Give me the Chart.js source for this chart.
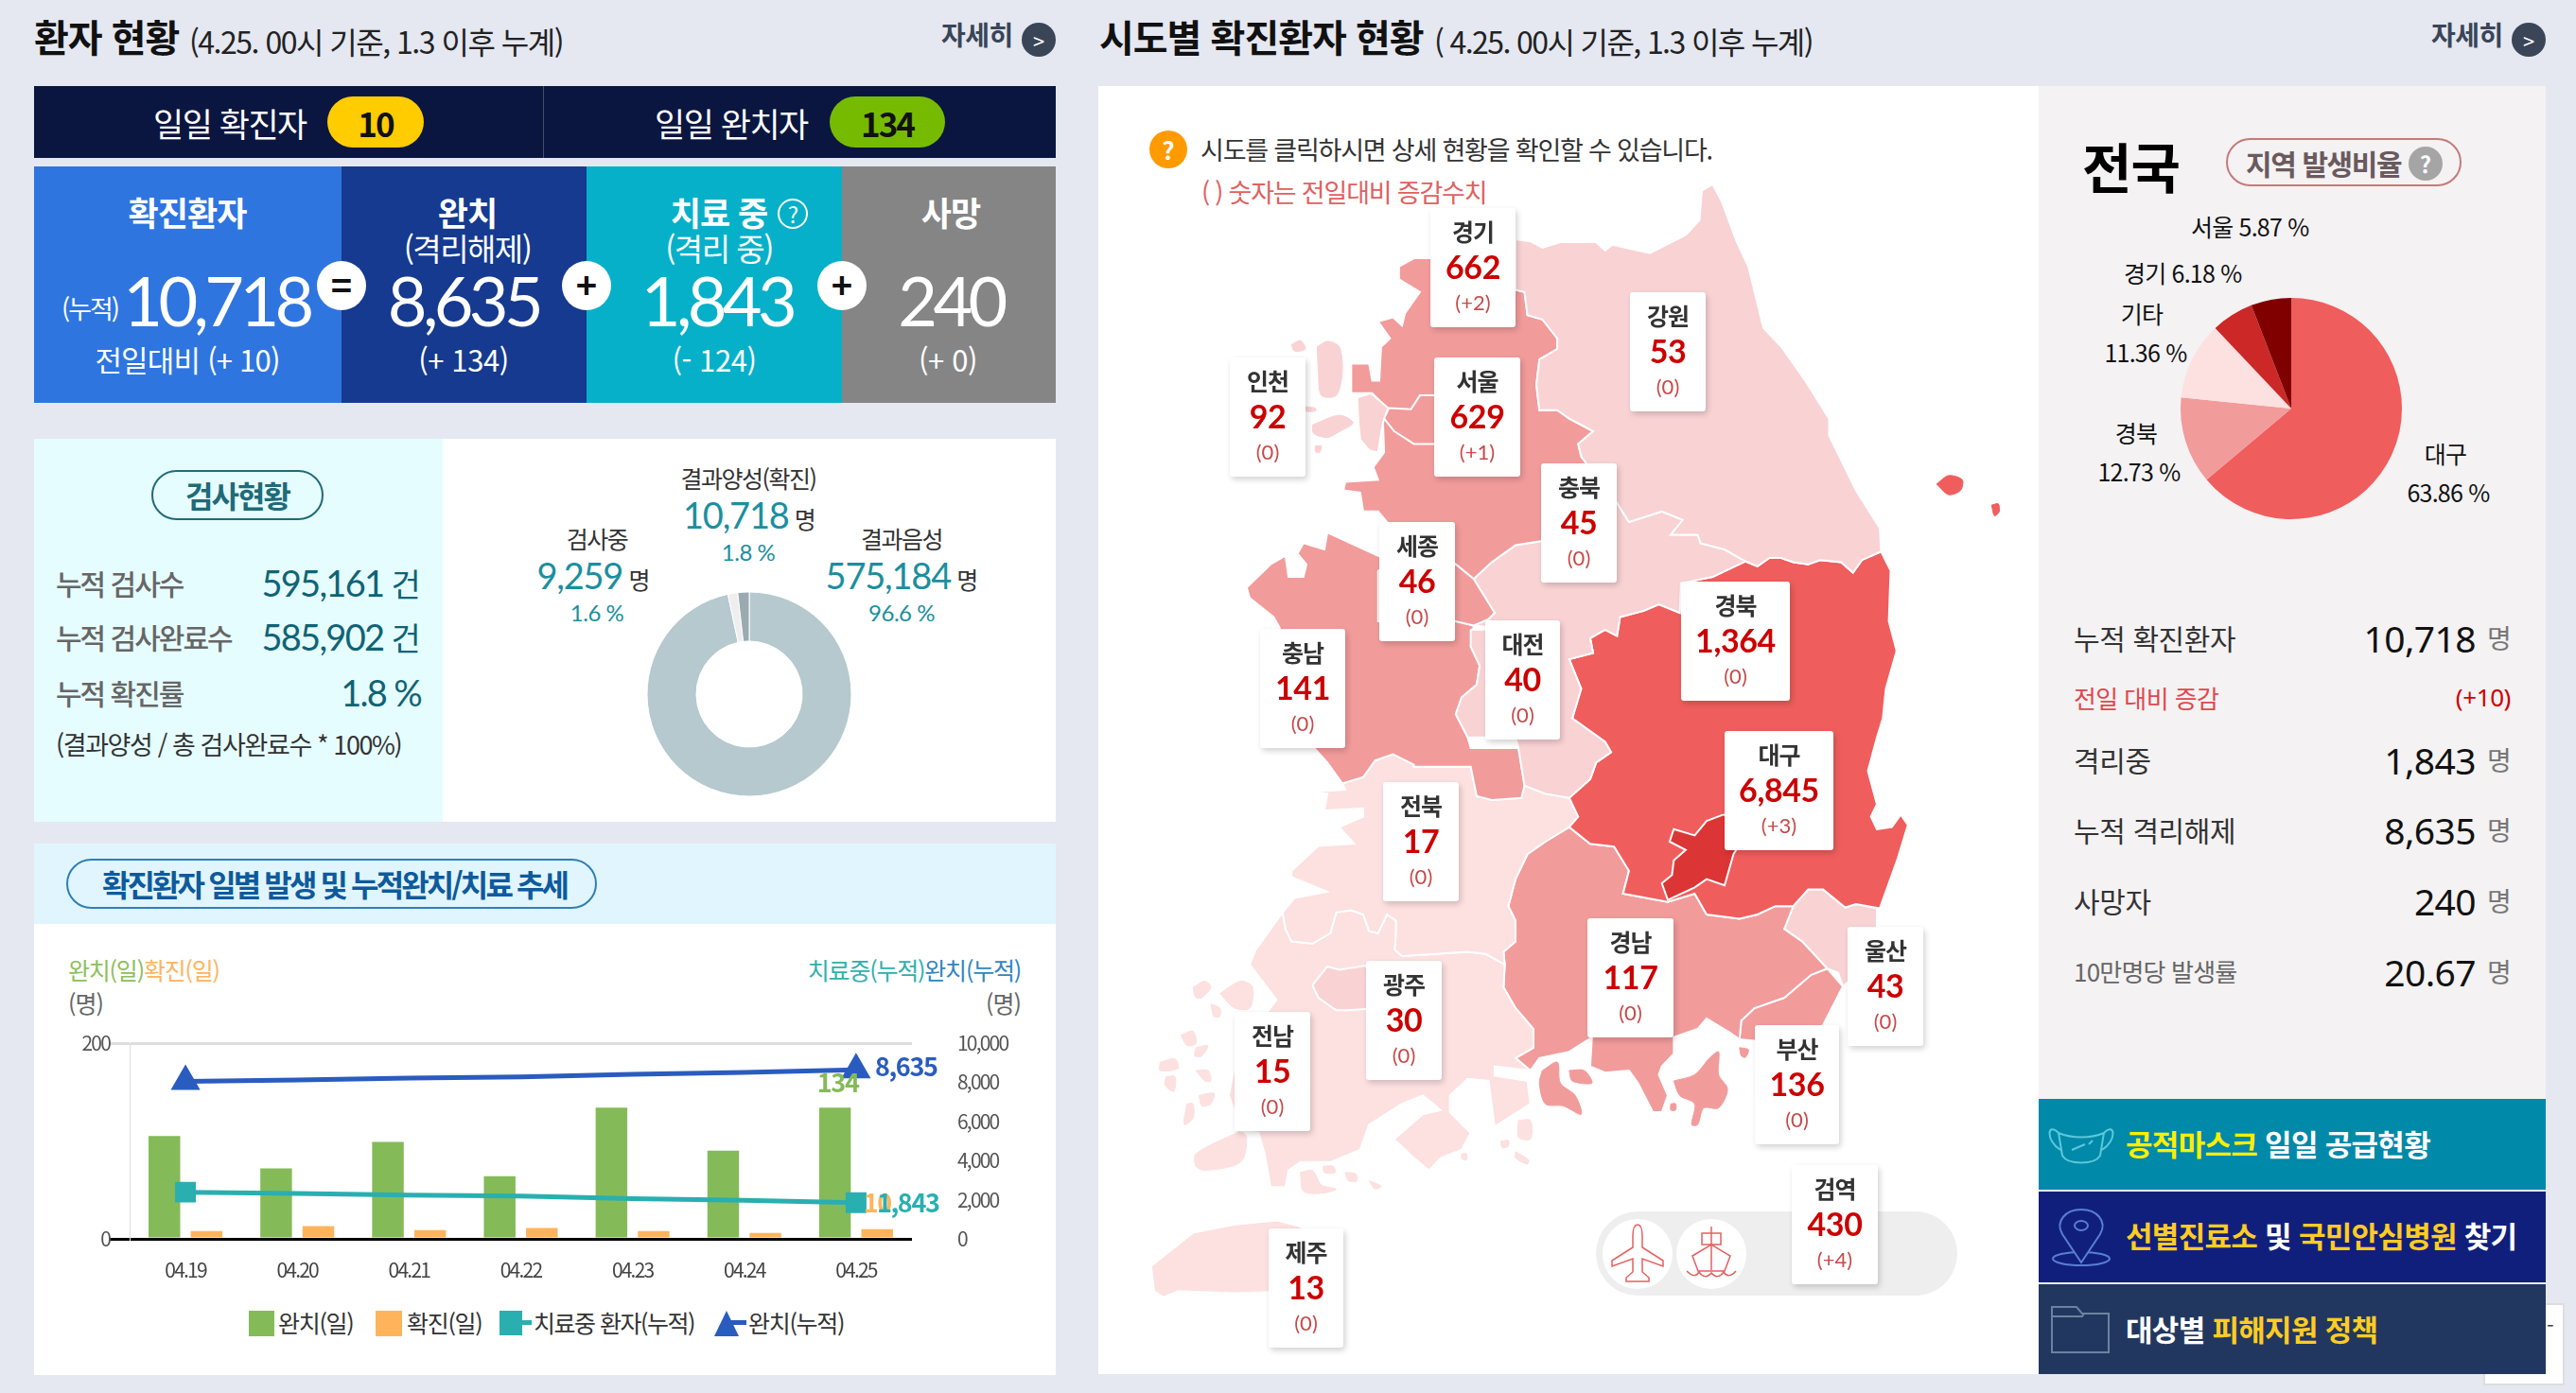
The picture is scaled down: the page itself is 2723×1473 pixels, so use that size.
<!DOCTYPE html>
<html lang="ko">
<head>
<meta charset="utf-8">
<title>환자 현황</title>
<script src="https://cdn.jsdelivr.net/npm/chart.js@4/dist/chart.umd.min.js"></script>
<style>
  html, body { margin: 0; padding: 0; }
  body { width: 2723px; height: 1473px; background: #e5e8f1; position: relative; overflow: hidden;
         font-family: "Noto Sans CJK KR", "Noto Sans", sans-serif; }
  .box, .txt, canvas, svg { position: absolute; }
  .txt { white-space: nowrap; line-height: 1; }
  .card { position: absolute; background: #fff; border-radius: 3px; box-shadow: 2px 3px 6px rgba(0,0,0,.18); }
</style>
</head>
<body>
<canvas id="mapChart" width="990" height="1363" style="left:1160px;top:90px"></canvas>
<script>
// chart data
const trendDays = ['04.19', '04.20', '04.21', '04.22', '04.23', '04.24', '04.25'];
const recoveredDaily = [105, 72, 99, 64, 134, 90, 134];
const confirmedDaily = [8, 13, 9, 11, 8, 6, 10];
const isolatedTotal = [2385, 2324, 2235, 2180, 2053, 1967, 1843];
const recoveredTotal = [8042, 8114, 8213, 8277, 8411, 8501, 8635];
const leftTicks = [0, 200];
const rightTicks = [0, 2000, 4000, 6000, 8000, 10000];

const testNames = ['결과음성', '검사중', '결과양성(확진)'];
const testCounts = [575184, 9259, 10718];
const testShares = [96.6, 1.6, 1.8];

const shareNames = ['대구', '경북', '기타', '경기', '서울'];
const shareValues = [63.86, 12.73, 11.36, 6.18, 5.87];

const regionNames = ['경기', '인천', '서울', '강원', '충북', '세종', '충남', '대전', '경북', '대구', '전북', '광주', '전남', '경남', '울산', '부산', '검역', '제주'];
const regionCounts = ['662', '92', '629', '53', '45', '46', '141', '40', '1,364', '6,845', '17', '30', '15', '117', '43', '136', '430', '13'];
const regionDeltas = ['+2', '0', '+1', '0', '0', '0', '0', '0', '0', '+3', '0', '0', '0', '0', '0', '0', '+4', '0'];

const fmt = n => n.toLocaleString('en-US');
const KR = "'Noto Sans CJK KR', 'Noto Sans', sans-serif";
const NUM = "Lato, 'Noto Sans', sans-serif";

// text and box helpers, y is the middle of the text
function put(x, y, html, o = {}) {
    const el = document.createElement('div');
    el.className = 'txt';
    const tx = o.align === 'center' ? '-50%' : o.align === 'right' ? '-100%' : '0';
    el.style.cssText = `left:${x}px;top:${y - 2}px;transform:translate(${tx},-50%);font-size:${o.size || 24}px;` +
        `font-weight:${o.weight || 400};color:${o.color || '#333'};letter-spacing:${o.ls === undefined ? -1 : o.ls}px;` +
        `font-family:${o.font || KR}`;
    el.innerHTML = html;
    document.body.appendChild(el);
    return el;
}
function box(x, y, w, h, bg, extra = '') {
    const el = document.createElement('div');
    el.className = 'box';
    el.style.cssText = `left:${x}px;top:${y}px;width:${w}px;height:${h}px;background:${bg};box-sizing:border-box;${extra}`;
    document.body.insertBefore(el, document.getElementById('mapChart'));
    return el;
}
function circle(cx, cy, r, bg, extra = '') {
    const el = box(cx - r, cy - r, r * 2, r * 2, bg, 'border-radius:50%;' + extra);
    return el;
}
function detailLink(x) {
    put(x, 38, '자세히', { size: 28, weight: 700, color: '#3a4558', ls: -0.5 });
    circle(x + 103, 42, 18, '#3a4558');
    put(x + 103, 44, '&gt;', { size: 22, color: '#fff', align: 'center', ls: 0 });
}

// left column: header
put(36, 40, '환자 현황', { size: 40, weight: 700, color: '#111', ls: -1 });
put(200, 45, '(4.25. 00시 기준, 1.3 이후 누계)', { size: 32, color: '#222', ls: -1.5 });
detailLink(995);

// daily strip
box(36, 91, 1080, 76, '#0a1640');
box(574, 91, 1, 76, '#444d6b');
put(162, 131, '일일 확진자', { size: 35, color: '#fff', ls: -1.5 });
box(346, 102, 102, 54, '#ffcc00', 'border-radius:27px');
put(397, 131, '10', { size: 35, weight: 700, color: '#111', align: 'center', ls: -2 });
put(692, 131, '일일 완치자', { size: 35, color: '#fff', ls: -1.5 });
box(877, 102, 122, 54, '#77bb00', 'border-radius:27px');
put(938, 131, '134', { size: 35, weight: 700, color: '#111', align: 'center', ls: -2 });

// totals
box(36, 176, 325, 250, '#2e75e0');
box(361, 176, 259, 250, '#153a8f');
box(620, 176, 270, 250, '#06b0c9');
box(890, 176, 226, 250, '#858585');
const white = { color: '#fff', align: 'center' };
put(198, 225, '확진환자', { ...white, size: 35, weight: 700 });
put(494, 225, '완치', { ...white, size: 35, weight: 700 });
put(494, 264, '(격리해제)', { ...white, size: 33, ls: -1.5 });
put(760, 225, '치료 중', { ...white, size: 35, weight: 700 });
circle(838, 226, 16, 'transparent', 'border:2px solid #fff');
put(838, 228, '?', { ...white, size: 24 });
put(760, 264, '(격리 중)', { ...white, size: 33, ls: -1.5 });
put(1005, 225, '사망', { ...white, size: 35, weight: 700 });
put(65, 327, '(누적)', { color: '#fff', size: 27, ls: -2 });
const bigNum = { ...white, size: 72, font: NUM, weight: 400, ls: -4.6 };
put(229, 319, '10,718', bigNum);
put(490, 319, '8,635', bigNum);
put(758, 319, '1,843', bigNum);
put(1005, 319, '240', bigNum);
put(198, 381, '전일대비 (+ 10)', { ...white, size: 31, ls: -0.8 });
put(490, 381, '(+ 134)', { ...white, size: 31, ls: -0.4 });
put(755, 381, '(- 124)', { ...white, size: 31, ls: -0.4 });
put(1002, 381, '(+ 0)', { ...white, size: 31, ls: -0.4 });
[[361, '='], [620, '+'], [890, '+']].forEach(([x, s]) => {
    circle(x, 302, 26, '#fff');
    put(x, 302, s, { size: 38, weight: 700, color: '#111', align: 'center', ls: 0 });
});

// test status panel
box(36, 464, 432, 405, '#e6fdff');
box(468, 464, 648, 405, '#fff');
box(160, 497, 182, 53, 'transparent', 'border:2px solid #1f6b78;border-radius:27px');
put(251, 525, '검사현황', { size: 32, weight: 700, color: '#1f6b78', align: 'center', ls: -2 });
const rowLabel = { size: 30, weight: 500, color: '#666', ls: -2 };
const rowValue = { size: 38, weight: 400, color: '#0f6375', align: 'right', font: NUM, ls: -1.7 };
const unitCount = `<span style="font:400 34px ${KR}">건</span>`;
put(59, 618, '누적 검사수', rowLabel);
put(443, 618, '595,161 ' + unitCount, rowValue);
put(59, 675, '누적 검사완료수', rowLabel);
put(443, 675, '585,902 ' + unitCount, rowValue);
put(59, 734, '누적 확진률', rowLabel);
put(445, 734, '1.8 %', rowValue);
put(59, 788, '(결과양성 / 총 검사완료수 * 100%)', { size: 27, color: '#333', ls: -1.4 });

const teal = '#1a8fa0';
function testLabel(cx, yTop, i, dx) {
    put(cx, yTop, testNames[i], { size: 25, color: '#333', align: 'center', ls: -1.5 });
    put(cx + dx, yTop + 39, `<span style="color:${teal};font-family:${NUM};font-size:38px;font-weight:400;letter-spacing:-1.2px">${fmt(testCounts[i])}</span> 명`,
        { size: 25, color: '#333', align: 'center', ls: -0.8 });
    put(cx, yTop + 79, testShares[i] + ' %', { size: 24, color: teal, align: 'center', font: NUM, ls: -0.5 });
}
testLabel(791, 507, 2, 1);
testLabel(631, 571, 1, -4);
testLabel(953, 571, 0, 0);

// trend panel
box(36, 892, 1080, 85, '#e1f5fe');
box(36, 977, 1080, 477, '#fff');
box(70, 908, 561, 53, 'transparent', 'border:2px solid #2f7fb5;border-radius:27px');
put(108, 936, '확진환자 일별 발생 및 누적완치/치료 추세', { size: 32, weight: 700, color: '#0e5a9c', ls: -2.9 });
put(72, 1027, '<span style="color:#8cc05a">완치(일)</span><span style="color:#ffb45c">확진(일)</span>', { size: 25, ls: -1.2 });
put(72, 1062, '(명)', { size: 25, color: '#666', ls: -1 });
put(1079, 1027, '<span style="color:#2fb0ac">치료중(누적)</span><span style="color:#2f86c0">완치(누적)</span>', { size: 25, align: 'right', ls: -1.2 });
put(1079, 1062, '(명)', { size: 25, color: '#666', align: 'right', ls: -1 });

// trend legend
box(263, 1386, 27, 27, '#84bb58');
put(294, 1400, '완치(일)', { size: 25, color: '#333', ls: -1.3 });
box(397, 1386, 28, 27, '#ffb45c');
put(430, 1400, '확진(일)', { size: 25, color: '#333', ls: -1.3 });
box(528, 1386, 24, 26, '#29afb0');
box(548, 1396, 14, 5, '#29afb0');
put(564, 1400, '치료중 환자(누적)', { size: 25, color: '#333', ls: -1.5 });
box(773, 1396, 16, 5, '#2a5cbf');
document.body.insertAdjacentHTML('beforeend', '<svg style="left:755px;top:1386px" width="26" height="27"><polygon points="13,0 26,27 0,27" fill="#2a5cbf"/></svg>');
put(791, 1400, '완치(누적)', { size: 25, color: '#333', ls: -1.3 });

// middle column
put(1162, 40, '시도별 확진환자 현황', { size: 40, weight: 700, color: '#111', ls: -1 });
put(1516, 45, '( 4.25. 00시 기준, 1.3 이후 누계)', { size: 32, color: '#222', ls: -1.6 });
detailLink(2570);
box(1161, 91, 994, 1362, '#fff');
circle(1235, 158, 20, '#ff9a00');
put(1235, 160, '?', { size: 26, weight: 700, color: '#fff', align: 'center', ls: 0 });
put(1269, 159, '시도를 클릭하시면 상세 현황을 확인할 수 있습니다.', { size: 27, color: '#333', ls: -1.2 });
put(1270, 204, '( ) 숫자는 전일대비 증감수치', { size: 27, color: '#e06060', ls: -1.2 });

// quarantine pill under the 검역 card
box(1687, 1281, 382, 89, '#eeeeee', 'border-radius:45px');
circle(1731, 1326, 37, '#fff');
circle(1809, 1326, 37, '#fff');
document.body.insertAdjacentHTML('beforeend',
    '<svg style="left:1700px;top:1293px;z-index:1" width="62" height="66" fill="none" stroke="#e46060" stroke-width="1.5">' +
    '<path d="M31 2c4 0 5 6 5 12v12l22 14v6l-22-8v14l7 6v4H19v-4l7-6V38L4 46v-6l22-14V14c0-6 1-12 5-12z"/></svg>' +
    '<svg style="left:1781px;top:1296px;z-index:1" width="56" height="62" fill="none" stroke="#e46060" stroke-width="1.5">' +
    '<path d="M28 1v46M18 8h20v12H18zM8 32l20-12 20 12-6 16H14zM2 48c6 6 10 6 13 1 4 6 9 6 13 1 4 5 9 5 13-1 3 5 8 5 13-1"/></svg>');

// right column
box(2155, 91, 536, 1362, '#f4f2f3');
put(2201, 176, '전국', { size: 57, weight: 700, color: '#000', ls: -1 });
box(2353, 146, 249, 51, 'transparent', 'border:2px solid #c47a7a;border-radius:26px');
put(2374, 174, '지역 발생비율', { size: 30, weight: 700, color: '#6a5a5e', ls: -1.4 });
circle(2564, 173, 18, '#a5a5a5');
put(2564, 175, '?', { size: 24, weight: 700, color: '#fff', align: 'center', ls: 0 });

const shareText = { size: 25, color: '#111', ls: -0.8 };
put(2316, 241, `${shareNames[4]} ${shareValues[4]} %`, shareText);
put(2245, 290, `${shareNames[3]} ${shareValues[3]} %`, shareText);
put(2264, 333, shareNames[2], { ...shareText, align: 'center' });
put(2268, 374, shareValues[2] + ' %', { ...shareText, align: 'center' });
put(2258, 459, shareNames[1], { ...shareText, align: 'center' });
put(2261, 500, shareValues[1] + ' %', { ...shareText, align: 'center' });
put(2585, 481, shareNames[0], { ...shareText, align: 'center' });
put(2588, 522, shareValues[0] + ' %', { ...shareText, align: 'center' });

const statRows = [
    [676, '누적 확진환자', '10,718'],
    [805, '격리중', '1,843'],
    [879, '누적 격리해제', '8,635'],
    [954, '사망자', '240'],
    [1029, '10만명당 발생률', '20.67']
];
statRows.forEach(([y, label, value], i) => {
    const last = i === statRows.length - 1;
    put(2192, y, label, { size: last ? 26 : 30, color: last ? '#666' : '#333', ls: last ? -0.8 : -0.4 });
    put(2617, y, value, { size: 39, color: '#111', align: 'right', font: "'Noto Sans', sans-serif", ls: -0.6 });
    put(2629, y, '명', { size: 28, color: '#777', ls: 0 });
});
put(2192, 740, '전일 대비 증감', { size: 26, color: '#e0484e', ls: -0.6 });
put(2654, 739, '(+10)', { size: 26, color: '#c00', align: 'right', font: "'Noto Sans', sans-serif", ls: -0.4 });

// bottom-right stray box and the three banners
box(2625, 1378, 86, 87, '#fff', 'border:2px solid #ddd');
put(2692, 1402, '-', { size: 22, color: '#444' });
box(2155, 1162, 536, 96, '#0089a8');
box(2155, 1260, 536, 96, '#111f7c');
box(2155, 1358, 536, 95, '#22375f');
const y1 = '#ffee00', y2 = '#ffcc22';
const banner = { size: 31, weight: 700, color: '#fff', ls: -0.7 };
put(2247, 1210, `<span style="color:${y1}">공적마스크</span> 일일 공급현황`, banner);
put(2247, 1307, `<span style="color:${y2}">선별진료소</span> 및 <span style="color:${y2}">국민안심병원</span> 찾기`, banner);
put(2247, 1406, `대상별 <span style="color:${y2}">피해지원 정책</span>`, banner);
document.body.insertAdjacentHTML('beforeend',
    '<svg style="left:2162px;top:1184px" width="76" height="52" fill="none" stroke="#5cc8dc" stroke-width="2">' +
    '<path d="M14 14c14 6 34 6 48 0l-4 24c-6 10-34 10-40 0zM14 14C2 2 0 22 16 32M62 14c12-12 14 8-2 18M28 32l14-6M46 26l4-4"/></svg>' +
    '<svg style="left:2167px;top:1277px" width="66" height="64" fill="none" stroke="#5a7fd0" stroke-width="2">' +
    '<ellipse cx="33" cy="54" rx="30" ry="7"/><path d="M33 58L13 28c-8-14 4-26 20-26s28 12 20 26z" fill="#111f7c"/><ellipse cx="33" cy="19" rx="7" ry="5"/></svg>' +
    '<svg style="left:2167px;top:1380px" width="64" height="52" fill="none" stroke="#6b83a0" stroke-width="2">' +
    '<path d="M2 2h26l6 7h28v41H2zM2 12h32l2-3"/></svg>');

// region cards, in the order of regionNames
const cardSpots = [[1512, 220, 90], [1300, 378, 80], [1516, 378, 91], [1723, 309, 80], [1629, 490, 80], [1458, 552, 80],
    [1332, 665, 90], [1570, 656, 79], [1777, 615, 115], [1823, 773, 115], [1462, 827, 80], [1444, 1016, 80],
    [1305, 1070, 80], [1678, 971, 91], [1953, 980, 80], [1855, 1084, 89], [1894, 1232, 91], [1341, 1299, 79]];
regionNames.forEach((name, i) => {
    const [x, y, w] = cardSpots[i];
    const card = document.createElement('div');
    card.className = 'card';
    card.style.cssText = `left:${x}px;top:${y}px;width:${w}px;height:126px;z-index:2`;
    document.body.appendChild(card);
    const cx = x + w / 2;
    [put(cx, y + 26, name, { size: 25, weight: 700, color: '#333', align: 'center', ls: -1 }),
     put(cx, y + 64, regionCounts[i], { size: 34, weight: 700, color: '#cc0000', align: 'center', font: NUM, ls: -0.4 }),
     put(cx, y + 102, `(${regionDeltas[i]})`, { size: 22, color: '#c64a4a', align: 'center', font: NUM, ls: 0 })
    ].forEach(t => { t.style.zIndex = 3; });
});

// map outlines
const z4 = pts => pts.map(([x, y]) => ({ x: 1160 + x * 0.6314, y: 90 + y * 0.4464 }));
const z5 = pts => pts.map(([x, y]) => ({ x: 1160 + x * 0.6314, y: 780 + y * 0.44 }));
const LIGHT = '#f9d2d4', PALE = '#fde0e0', MID = '#f29b9b', STRONG = '#ef5d5d', DEEP = '#dc3535';

const daegu = z5([[1048,185],[1020,200],[1000,235],[965,220],[958,250],[985,270],[965,295],[962,330],[945,350],[955,390],[1000,360],[1020,340],[1050,355],[1065,280],[1100,200]]);
const seoul = z4([[488,765],[525,768],[540,735],[600,735],[600,850],[530,850],[497,820],[480,790]]);
const incheon = z4([[435,740],[458,730],[487,765],[478,800],[470,870],[455,865],[440,840],[437,800]]);
const sejong = z4([[470,1150],[600,1135],[630,1170],[665,1250],[655,1265],[630,1280],[600,1270],[470,1270]]);
const gwangju = z5([[360,595],[385,550],[405,558],[450,548],[470,650],[420,655],[400,655],[370,625]]);
const daejeon = z4([[625,1290],[625,1330],[640,1375],[635,1420],[610,1450],[600,1490],[620,1545],[700,1545],[700,1290]]);
const gangwon = z4([[700,365],[725,370],[745,385],[775,372],[835,372],[850,392],[862,378],[925,398],[985,355],[1008,320],[1012,250],[1030,235],[1045,275],[1070,370],[1090,430],[1115,575],[1145,620],[1185,700],[1225,790],[1225,830],[1270,960],[1310,1050],[1312,1105],[1280,1125],[1265,1155],[1245,1130],[1210,1125],[1190,1135],[1165,1130],[1145,1120],[1125,1120],[1105,1140],[1085,1128],[1050,1100],[1010,1085],[1005,1065],[960,1065],[980,1030],[945,1010],[890,1035],[870,990],[810,880],[805,850],[830,820],[790,790],[770,770],[740,770],[735,710],[740,650],[770,625],[770,600],[745,555],[720,545],[715,490],[700,485]]);
const gyeonggi = z4([[700,365],[700,485],[715,490],[720,545],[745,555],[770,600],[770,625],[740,650],[735,710],[740,770],[770,770],[790,790],[830,820],[805,850],[810,880],[870,990],[745,1080],[700,1090],[660,1130],[630,1170],[600,1135],[485,1035],[470,1010],[445,1010],[440,965],[412,960],[415,940],[470,935],[462,905],[480,870],[478,790],[485,765],[460,730],[425,730],[425,660],[455,660],[460,700],[472,700],[475,620],[490,600],[470,560],[495,550],[510,570],[515,540],[540,490],[505,460],[505,430],[530,410],[560,410]]);
const chungbuk = [...z4([[745,1080],[700,1090],[660,1130],[630,1170],[665,1250],[655,1265],[630,1280],[700,1290],[700,1545]]),
    ...z5([[705,25],[715,115],[750,135],[790,145],[825,100],[835,60],[860,35],[850,10]]),
    ...z4([[795,1500],[810,1430],[790,1360],[830,1345],[825,1310],[850,1290],[870,1305],[875,1260],[915,1245],[940,1230],[975,1250],[977,1180],[1030,1165],[1085,1128],[1050,1100],[1010,1085],[1005,1065],[960,1065],[980,1030],[945,1010],[890,1035],[870,990]])];
const chungnam = [...z4([[385,1060],[470,1115],[600,1135],[600,1270],[630,1280],[625,1330],[640,1375],[635,1420],[610,1450],[600,1490],[620,1545]]),
    ...z5([[625,25],[705,25],[715,115],[710,145],[660,150],[635,140],[625,70],[530,70],[530,65],[495,40],[465,55],[445,95],[410,110],[385,60],[360,20]]),
    ...z4([[305,1285],[295,1260],[255,1215],[250,1190],[290,1135],[315,1115],[320,1165],[345,1165],[350,1135],[335,1110],[345,1085],[380,1100]])];
const gyeongbuk = [...z4([[1085,1128],[1105,1140],[1125,1120],[1145,1120],[1165,1130],[1190,1135],[1210,1125],[1245,1130],[1265,1155],[1280,1125],[1312,1105],[1328,1150],[1325,1270],[1338,1340],[1320,1430],[1315,1500]]),
    ...z5([[1305,0],[1290,80],[1305,160],[1295,190],[1305,220],[1330,215],[1345,185],[1357,210],[1340,290],[1310,410],[1270,400],[1252,408],[1215,365],[1190,365],[1165,405],[1135,405],[1105,425],[1075,435],[1020,425],[1000,375],[955,395],[880,375],[890,320],[865,262],[825,255],[790,215],[805,190],[790,145],[825,100],[835,60],[860,35],[850,10]]),
    ...z4([[795,1500],[810,1430],[790,1360],[830,1345],[825,1310],[850,1290],[870,1305],[875,1260],[915,1245],[940,1230],[975,1250],[977,1180],[1030,1165]])];
const jeonbuk = z5([[410,110],[445,95],[465,55],[495,40],[530,65],[530,70],[625,70],[635,140],[660,150],[710,145],[715,115],[750,135],[790,145],[805,190],[790,215],[750,250],[720,280],[700,340],[688,405],[700,440],[700,490],[680,515],[682,545],[650,520],[620,515],[565,520],[510,525],[498,510],[500,470],[500,440],[485,425],[470,470],[455,465],[445,425],[425,415],[400,420],[390,470],[360,495],[325,490],[315,460],[310,420],[330,385],[385,370],[325,335],[325,320],[370,260],[430,255],[405,215],[445,190],[445,170],[380,175],[385,135],[355,130],[415,125]]);
const jeonnam = z5([[310,420],[315,460],[325,490],[360,495],[390,470],[400,420],[425,415],[445,425],[455,465],[470,470],[485,425],[500,440],[500,470],[498,510],[510,525],[565,520],[620,515],[650,520],[682,545],[680,600],[700,650],[730,700],[730,745],[700,770],[725,800],[665,790],[665,812],[720,825],[725,880],[665,935],[655,825],[620,820],[590,860],[590,900],[625,950],[610,990],[575,1010],[555,1040],[530,1010],[497,965],[545,905],[575,895],[545,860],[510,880],[455,930],[440,990],[390,1020],[340,1020],[320,1040],[315,1080],[290,1080],[280,1000],[270,950],[240,945],[230,900],[220,860],[235,750],[300,630],[255,545],[265,510]]);
const gyeongnam = z5([[790,215],[825,255],[865,262],[890,320],[880,375],[955,395],[1000,375],[1020,425],[1075,435],[1105,425],[1135,405],[1165,405],[1150,460],[1180,490],[1222,555],[1195,570],[1150,625],[1100,650],[1078,680],[1075,725],[1060,710],[1020,675],[1005,700],[965,720],[965,760],[945,790],[940,810],[955,860],[945,900],[930,900],[905,830],[890,800],[850,805],[825,790],[828,720],[790,755],[740,770],[725,800],[700,770],[730,745],[730,700],[700,650],[680,600],[682,545],[680,515],[700,490],[700,440],[688,405],[700,340],[720,280],[750,250]]);
const busan = z5([[1078,680],[1100,650],[1150,625],[1195,570],[1222,555],[1248,598],[1215,690],[1180,740],[1075,725]]);
const ulsan = z5([[1165,405],[1190,365],[1215,365],[1252,408],[1270,400],[1305,410],[1305,470],[1262,580],[1248,598],[1240,565],[1222,555],[1180,490],[1150,460]]);
const jeju = z5([[90,1270],[160,1190],[230,1170],[300,1160],[340,1175],[400,1250],[330,1330],[230,1335],[135,1330],[110,1345],[95,1330]]);

const incheonIslands = [[[368,620],[385,607],[405,620],[410,680],[400,735],[375,735],[370,680]], [[360,805],[405,782],[428,800],[400,825],[385,835],[362,825]], [[325,615],[340,605],[348,625],[330,630]], [[348,762],[365,765],[365,772],[348,772]], [[365,855],[375,855],[372,870],[365,868]]].map(z4);
const jeonnamIslands = [[[160,600],[180,585],[190,600],[175,625],[165,625]], [[205,615],[240,585],[260,600],[255,650],[230,650]], [[190,640],[205,650],[205,670],[195,670]], [[140,715],[160,705],[165,735],[150,740]], [[165,745],[185,740],[175,765],[163,765]], [[105,780],[130,772],[135,795],[105,800]], [[165,800],[185,800],[190,825],[180,825]], [[115,815],[130,815],[128,850],[113,835]], [[170,860],[195,855],[190,880],[175,885]], [[150,880],[160,880],[160,915],[145,930]], [[240,945],[165,1000],[165,1030],[180,1040],[240,1020],[250,960]], [[340,1045],[360,1040],[375,1075],[400,1085],[375,1095],[345,1090]], [[415,1045],[432,1048],[435,1065],[420,1065]], [[378,1030],[395,1030],[398,1045],[380,1045]], [[455,1065],[475,1078],[465,1085]], [[705,920],[725,920],[725,965],[705,960]], [[700,995],[722,1015],[720,1025],[700,1010]], [[675,970],[688,968],[688,982],[678,985]], [[610,1000],[618,1000],[618,1015],[610,1012]]].map(z5);
const gyeongnamIslands = [[[745,800],[770,780],[775,830],[800,860],[810,905],[780,885],[750,880],[740,830]], [[790,800],[815,800],[828,830],[795,825]], [[965,825],[1000,810],[1025,770],[1040,755],[1040,810],[1055,845],[1040,890],[1015,890],[1005,930],[995,930],[1000,880],[975,860]], [[960,880],[968,880],[968,895],[960,895]], [[1075,745],[1090,750],[1085,768],[1078,765]]].map(z5);
const dokdo = [[[1405,945],[1425,925],[1448,935],[1445,960],[1425,970]], [[1497,995],[1508,992],[1510,1010],[1502,1020]]].map(z4);

// first dataset is painted last, so the small regions come first
const landShapes = [[daegu, DEEP], [seoul, MID], [incheon, LIGHT], [sejong, MID], [gwangju, LIGHT], [daejeon, LIGHT],
    [gangwon, LIGHT], [gyeonggi, MID], [chungbuk, LIGHT], [chungnam, MID], [gyeongbuk, STRONG], [jeonbuk, PALE],
    [jeonnam, PALE], [gyeongnam, MID], [busan, MID], [ulsan, LIGHT], [jeju, PALE]];
const islandShapes = [...incheonIslands.map(p => [p, LIGHT]), ...jeonnamIslands.map(p => [p, PALE]),
    ...gyeongnamIslands.map(p => [p, MID]), ...dokdo.map(p => [p, STRONG])];

new Chart(document.getElementById('mapChart'), {
    type: 'scatter',
    data: {
        datasets: [
            ...landShapes.map(([pts, color]) => ({ data: [...pts, pts[0]], showLine: true, fill: 'shape', pointRadius: 0, tension: 0, backgroundColor: color, borderColor: '#fff', borderWidth: 2 })),
            ...islandShapes.map(([pts, color]) => ({ data: [...pts, pts[0]], showLine: true, fill: 'shape', pointRadius: 0, tension: 0.3, backgroundColor: color, borderColor: color, borderWidth: 1 }))
        ]
    },
    options: {
        responsive: false,
        animation: false,
        layout: { padding: 0 },
        plugins: { legend: { display: false }, tooltip: { enabled: false } },
        scales: {
            x: { display: false, min: 1160, max: 2150 },
            y: { display: false, min: 90, max: 1453, reverse: true }
        }
    }
});
document.getElementById('mapChart').style.zIndex = 1;

// canvases for the three charts
function addCanvas(id, x, y, w, h) {
    const c = document.createElement('canvas');
    c.id = id;
    c.width = w;
    c.height = h;
    c.style.cssText = `left:${x}px;top:${y}px`;
    document.body.appendChild(c);
    return c;
}

// test doughnut
new Chart(addCanvas('testChart', 672, 614, 240, 240), {
    type: 'doughnut',
    data: { labels: testNames, datasets: [{ data: testCounts, backgroundColor: ['#b5c9ce', '#eeeeee', '#9aaab0'], borderColor: '#fff', borderWidth: 1 }] },
    options: {
        responsive: false, animation: false, radius: 108, cutout: 62, layout: { padding: 0 },
        plugins: { legend: { display: false }, tooltip: { enabled: false } }
    }
});

// region share pie
new Chart(addCanvas('shareChart', 2292, 302, 260, 260), {
    type: 'pie',
    data: { labels: shareNames, datasets: [{ data: shareValues, backgroundColor: ['#ef5d5d', '#f29b9b', '#fde0e0', '#cc2828', '#800000'], borderWidth: 0 }] },
    options: {
        responsive: false, animation: false, radius: 117, layout: { padding: 0 },
        plugins: { legend: { display: false }, tooltip: { enabled: false } }
    }
});

// value labels on the last day of the trend chart
const lastDayLabels = {
    id: 'lastDayLabels',
    beforeDraw(chart) { chart.ctx.letterSpacing = '-1.8px'; },
    afterDatasetsDraw(chart) {
        const { ctx } = chart;
        const n = trendDays.length - 1;
        const spot = i => chart.getDatasetMeta(i).data[n];
        ctx.save();
        ctx.font = '700 27px ' + KR;
        ctx.textBaseline = 'middle';
        ctx.letterSpacing = '-1.4px';
        ctx.textAlign = 'center';
        ctx.fillStyle = '#84bb58';
        ctx.fillText(recoveredDaily[n], spot(0).x + 3, spot(0).y - 27);
        ctx.fillStyle = '#ffb45c';
        ctx.fillText(confirmedDaily[n], spot(1).x, spot(1).y - 28);
        ctx.textAlign = 'left';
        ctx.fillStyle = '#29afb0';
        ctx.fillText(fmt(isolatedTotal[n]), spot(2).x + 22, spot(2).y);
        ctx.fillStyle = '#2a5cbf';
        ctx.fillText(fmt(recoveredTotal[n]), spot(3).x + 20, spot(3).y - 4);
        ctx.restore();
    }
};

new Chart(addCanvas('trendChart', 36, 1060, 1080, 394), {
    data: {
        labels: trendDays,
        datasets: [
            { type: 'bar', label: '완치(일)', data: recoveredDaily, backgroundColor: '#84bb58', yAxisID: 'yDaily', order: 2, categoryPercentage: 0.755, barPercentage: 0.75 },
            { type: 'bar', label: '확진(일)', data: confirmedDaily, backgroundColor: '#ffb45c', yAxisID: 'yDaily', order: 2, categoryPercentage: 0.755, barPercentage: 0.75 },
            { type: 'line', label: '치료중 환자(누적)', data: isolatedTotal, borderColor: '#29afb0', backgroundColor: '#29afb0', borderWidth: 5, tension: 0,
              pointStyle: 'rect', pointRadius: [12, 0, 0, 0, 0, 0, 12], yAxisID: 'yTotal', order: 1 },
            { type: 'line', label: '완치(누적)', data: recoveredTotal, borderColor: '#2a5cbf', backgroundColor: '#2a5cbf', borderWidth: 5, tension: 0,
              pointStyle: 'triangle', pointRadius: [13, 0, 0, 0, 0, 0, 13], yAxisID: 'yTotal', order: 1 }
        ]
    },
    options: {
        responsive: false,
        animation: false,
        layout: { padding: { top: 43, left: 0, right: 0, bottom: 0 } },
        plugins: { legend: { display: false }, tooltip: { enabled: false } },
        scales: {
            x: {
                grid: { display: false },
                border: { display: false },
                ticks: { color: '#444', font: { size: 21, family: KR }, padding: 12, maxRotation: 0 },
                afterFit: s => { s.height = 144; }
            },
            yDaily: {
                position: 'left', min: 0, max: 200,
                afterBuildTicks: s => { s.ticks = leftTicks.map(value => ({ value })); },
                grid: {
                    color: c => (c.tick.value === 0 ? '#000' : '#dddddd'),
                    lineWidth: 3,
                    tickLength: 21
                },
                border: { display: true, color: '#dddddd', width: 1 },
                ticks: { color: '#555', font: { size: 21, family: KR }, padding: 0 },
                afterFit: s => { s.width = 101; }
            },
            yTotal: {
                position: 'right', min: 0, max: 10000,
                afterBuildTicks: s => { s.ticks = rightTicks.map(value => ({ value })); },
                // invisible tick marks push the labels away from the plot
                grid: { drawOnChartArea: false, tickLength: 48, tickColor: 'rgba(0,0,0,0)' },
                border: { display: false },
                ticks: { color: '#555', font: { size: 21, family: KR }, padding: 0, callback: v => fmt(v) },
                afterFit: s => { s.width = 152; }
            }
        }
    },
    plugins: [lastDayLabels]
});
</script>
</body>
</html>
